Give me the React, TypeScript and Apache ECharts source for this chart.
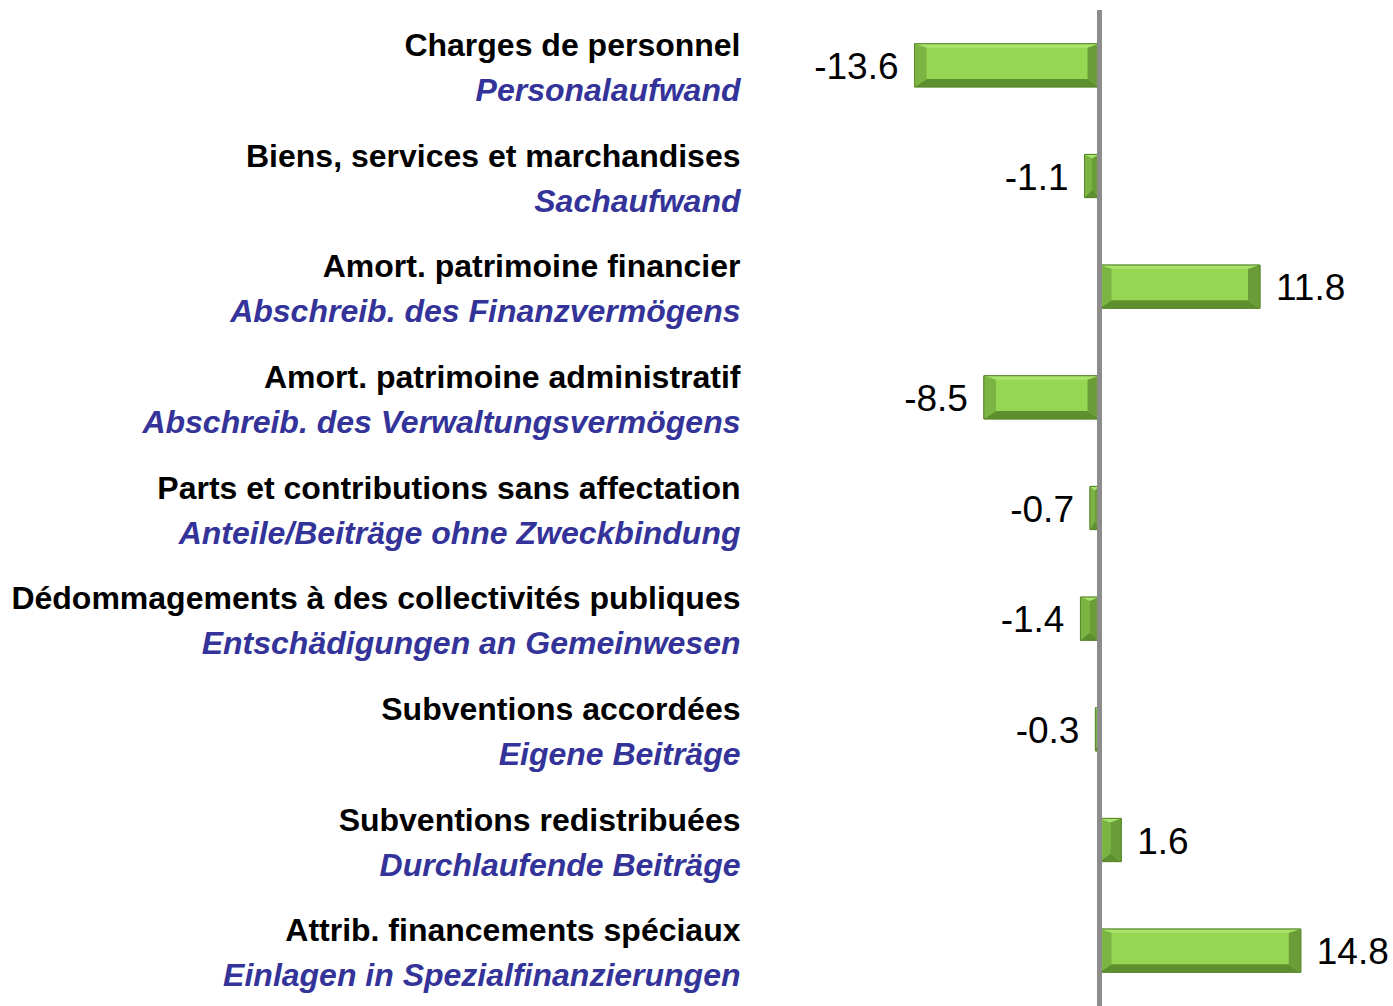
import React, { useEffect, useRef } from "react";
import * as echarts from "echarts";

const labelsFr = [
  "Charges de personnel",
  "Biens, services et marchandises",
  "Amort. patrimoine financier",
  "Amort. patrimoine administratif",
  "Parts et contributions sans affectation",
  "Dédommagements à des collectivités publiques",
  "Subventions accordées",
  "Subventions redistribuées",
  "Attrib. financements spéciaux",
];
const labelsDe = [
  "Personalaufwand",
  "Sachaufwand",
  "Abschreib. des Finanzvermögens",
  "Abschreib. des Verwaltungsvermögens",
  "Anteile/Beiträge ohne Zweckbindung",
  "Entschädigungen an Gemeinwesen",
  "Eigene Beiträge",
  "Durchlaufende Beiträge",
  "Einlagen in Spezialfinanzierungen",
];
const values = [-13.6, -1.1, 11.8, -8.5, -0.7, -1.4, -0.3, 1.6, 14.8];

const FONT = "'Liberation Sans', Arial, sans-serif";

export default function App() {
  const ref = useRef<HTMLDivElement>(null);
  useEffect(() => {
    if (!ref.current) return;
    const chart = echarts.init(ref.current, null, { renderer: "svg" });
    const cats = labelsFr.map((_, i) => String(i));
    chart.setOption({
      animation: false,
      backgroundColor: "#ffffff",
      grid: { left: 895.5, width: 408, top: 10, height: 1001 },
      xAxis: {
        type: "value",
        min: -15,
        max: 15,
        show: false,
        splitLine: { show: false },
      },
      yAxis: {
        type: "category",
        inverse: true,
        data: cats,
        axisLine: { show: false },
        axisTick: { show: false },
        splitLine: { show: false },
        axisLabel: {
          margin: 155,
          align: "right",
          padding: [4, 0, 0, 0],
          formatter: (v: string) => {
            const i = Number(v);
            return "{a|" + labelsFr[i] + "}\n{b|" + labelsDe[i] + "}";
          },
          rich: {
            a: {
              fontFamily: FONT,
              fontSize: 32,
              fontWeight: "bold",
              color: "#000000",
              lineHeight: 45,
              align: "right",
            },
            b: {
              fontFamily: FONT,
              fontSize: 32,
              fontWeight: "bold",
              fontStyle: "italic",
              color: "#333399",
              lineHeight: 45,
              align: "right",
            },
          },
        },
      },
      series: [
        {
          type: "custom",
          data: values.map((v, i) => [v, i]),
          encode: { x: 0, y: 1 },
          renderItem: (params: any, api: any) => {
            const v = api.value(0);
            const i = api.value(1);
            const p0 = api.coord([0, i]);
            const p1 = api.coord([v, i]);
            const band = api.size([0, 1])[1];
            const h = band * 0.39;
            const x0 = Math.min(p0[0], p1[0]);
            const x1 = Math.max(p0[0], p1[0]);
            const y0 = p0[1] - h / 2;
            const y1 = p0[1] + h / 2;
            const w = x1 - x0;
            const bl = Math.min(12, w / 2);
            const bt = 4;
            const bb = 8;
            const ix0 = x0 + bl;
            const ix1 = x1 - bl;
            const iy0 = y0 + bt;
            const iy1 = y1 - bb;
            const children: any[] = [
              {
                type: "rect",
                shape: { x: x0, y: y0, width: w, height: h },
                style: { fill: "#95d653", stroke: "#5b8a2f", lineWidth: 1 },
              },
              {
                type: "polygon",
                shape: { points: [[x0, y0], [x1, y0], [ix1, iy0], [ix0, iy0]] },
                style: { fill: "#a8e36c" },
              },
              {
                type: "polygon",
                shape: { points: [[x0, y1], [x1, y1], [ix1, iy1], [ix0, iy1]] },
                style: { fill: "#5e8f2f" },
              },
              {
                type: "polygon",
                shape: { points: [[x0, y0], [ix0, iy0], [ix0, iy1], [x0, y1]] },
                style: { fill: "#7cb443" },
              },
              {
                type: "polygon",
                shape: { points: [[x1, y0], [ix1, iy0], [ix1, iy1], [x1, y1]] },
                style: { fill: "#6a9d37" },
              },
              {
                type: "rect",
                shape: { x: x0, y: y0, width: w, height: h },
                style: { fill: "none", stroke: "#5b8a2f", lineWidth: 1 },
              },
              {
                type: "text",
                x: v < 0 ? x0 - 16 : x1 + 16,
                y: p0[1] + 1,
                style: {
                  text: v.toFixed(1),
                  fontFamily: FONT,
                  fontSize: 37,
                  fill: "#000000",
                  align: v < 0 ? "right" : "left",
                  verticalAlign: "middle",
                },
              },
            ];
            return { type: "group", children };
          },
          z: 2,
        },
        {
          type: "line",
          data: [],
          z: 5,
          markLine: {
            silent: true,
            symbol: "none",
            label: { show: false },
            lineStyle: { color: "#8c8c8c", width: 5, type: "solid" },
            data: [{ xAxis: 0 }],
          },
        },
      ],
    });
    return () => chart.dispose();
  }, []);
  return (
    <div
      ref={ref}
      style={{ position: "fixed", left: 0, top: 0, width: 1393, height: 1006 }}
    />
  );
}
